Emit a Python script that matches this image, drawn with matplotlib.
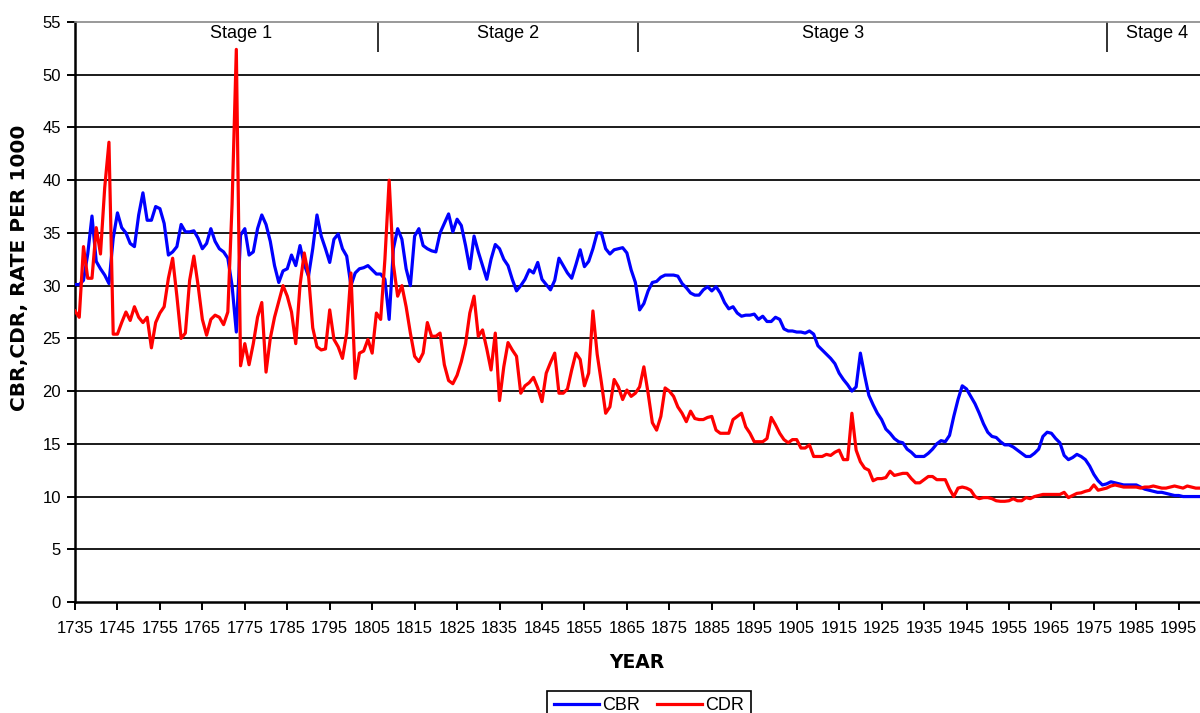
import matplotlib
matplotlib.use("Agg")
import matplotlib.pyplot as plt
import numpy as np

# years shown on the chart
years = np.arange(1735, 2001)

# crude birth rate per 1000
cbr = [
    30.1, 30.1, 30.5, 33.0, 36.6, 32.3, 31.6, 31.0, 30.2, 34.5,
    36.9, 35.5, 35.0, 34.0, 33.7, 36.7, 38.8, 36.2, 36.2, 37.5,
    37.3, 35.9, 32.9, 33.2, 33.7, 35.8, 35.1, 35.1, 35.2, 34.5,
    33.5, 34.0, 35.4, 34.2, 33.5, 33.2, 32.6, 30.0, 25.6, 34.8,
    35.4, 32.9, 33.2, 35.4, 36.7, 35.8, 34.2, 31.9, 30.3, 31.4,
    31.6, 32.9, 31.9, 33.8, 32.0, 30.9, 33.5, 36.7, 34.7, 33.5,
    32.2, 34.4, 34.9, 33.5, 32.8, 30.0, 31.2, 31.6, 31.7, 31.9,
    31.5, 31.1, 31.1, 30.6, 26.8, 33.5, 35.4, 34.4, 31.6, 30.0,
    34.7, 35.4, 33.8, 33.5, 33.3, 33.2, 35.0, 35.9, 36.8, 35.1,
    36.3, 35.7, 33.8, 31.6, 34.7, 33.2, 31.9, 30.6, 32.5, 33.9,
    33.5, 32.5, 31.9, 30.6, 29.5, 30.0, 30.6, 31.5, 31.2, 32.2,
    30.6, 30.1, 29.6, 30.5, 32.6, 31.9, 31.2, 30.7, 32.0, 33.4,
    31.8, 32.3, 33.5, 35.0, 35.0, 33.5, 33.0, 33.4, 33.5, 33.6,
    33.1, 31.5, 30.3, 27.7, 28.3, 29.5, 30.3, 30.4, 30.8, 31.0,
    31.0, 31.0, 30.9, 30.2, 29.8, 29.3, 29.1, 29.1, 29.6, 29.9,
    29.5, 29.9, 29.3, 28.4, 27.8, 28.0, 27.4, 27.1, 27.2, 27.2,
    27.3, 26.8, 27.1, 26.6, 26.6, 27.0, 26.8, 25.9, 25.7, 25.7,
    25.6, 25.6, 25.5, 25.7, 25.4, 24.3, 23.9, 23.5, 23.1, 22.6,
    21.7, 21.1, 20.6, 20.0, 20.4, 23.6, 21.5, 19.6, 18.7, 17.9,
    17.3, 16.4, 16.0, 15.5, 15.2, 15.1, 14.5, 14.2, 13.8, 13.8,
    13.8, 14.1, 14.5, 15.0, 15.3, 15.2, 15.8, 17.6, 19.2, 20.5,
    20.2, 19.5, 18.8, 17.9, 16.9, 16.1, 15.7, 15.6, 15.2, 14.9,
    14.9, 14.7, 14.4, 14.1, 13.8, 13.8, 14.1, 14.5, 15.7, 16.1,
    16.0, 15.5, 15.1, 13.9, 13.5, 13.7, 14.0, 13.8, 13.5, 12.9,
    12.1, 11.5, 11.1, 11.2, 11.4, 11.3, 11.2, 11.1, 11.1, 11.1,
    11.1, 10.9, 10.7, 10.6, 10.5, 10.4, 10.4, 10.3, 10.2, 10.1,
    10.1, 10.0, 10.0, 10.0, 10.0, 10.0,
]

# crude death rate per 1000
cdr = [
    27.6, 27.0, 33.7, 30.7, 30.7, 35.5, 33.0, 39.3, 43.6, 25.4,
    25.4, 26.5, 27.5, 26.7, 28.0, 27.0, 26.5, 27.0, 24.1, 26.5,
    27.4, 28.0, 30.7, 32.6, 29.0, 25.0, 25.5, 30.5, 32.8, 30.0,
    26.8, 25.3, 26.8, 27.2, 27.0, 26.3, 27.5, 37.7, 52.4, 22.4,
    24.5, 22.5, 24.5, 27.0, 28.4, 21.8, 25.0, 27.0, 28.5, 30.0,
    29.0, 27.5, 24.5, 30.0, 33.1, 31.0, 26.0, 24.2, 23.9, 24.0,
    27.7, 24.9, 24.2, 23.1, 25.5, 31.2, 21.2, 23.6, 23.8, 24.9,
    23.6, 27.4, 26.8, 32.5, 40.0, 32.0, 29.0, 30.0, 28.0, 25.5,
    23.3, 22.8, 23.6, 26.5, 25.2, 25.2, 25.5, 22.5, 21.0, 20.7,
    21.5, 22.8, 24.5, 27.4, 29.0, 25.2, 25.8, 24.0, 22.0, 25.5,
    19.1, 22.3, 24.6, 23.9, 23.3, 19.8, 20.5, 20.8, 21.3, 20.3,
    19.0, 21.7, 22.7, 23.6, 19.8, 19.8, 20.2, 22.0, 23.6, 23.0,
    20.5, 21.7, 27.6, 23.5, 20.8, 17.9, 18.5, 21.1, 20.4, 19.2,
    20.1, 19.5, 19.8, 20.4, 22.3, 19.8, 17.0, 16.3, 17.6, 20.3,
    20.0, 19.5, 18.5, 17.9, 17.1, 18.1, 17.4, 17.3, 17.3, 17.5,
    17.6, 16.3, 16.0, 16.0, 16.0, 17.3, 17.6, 17.9, 16.6, 16.0,
    15.2, 15.2, 15.2, 15.5, 17.5, 16.8, 16.0, 15.4, 15.1, 15.4,
    15.4, 14.6, 14.6, 14.9, 13.8, 13.8, 13.8, 14.0, 13.9, 14.2,
    14.4, 13.5, 13.5, 17.9, 14.4, 13.3, 12.7, 12.5, 11.5, 11.7,
    11.7, 11.8, 12.4, 12.0, 12.1, 12.2, 12.2, 11.7, 11.3, 11.3,
    11.6, 11.9, 11.9, 11.6, 11.6, 11.6, 10.7, 10.0, 10.8, 10.9,
    10.8, 10.6, 10.0, 9.8, 9.9, 9.9, 9.8, 9.6, 9.55, 9.55,
    9.6, 9.8, 9.6, 9.6, 9.9, 9.8, 10.0, 10.1, 10.2, 10.2,
    10.2, 10.2, 10.2, 10.4, 9.9, 10.1, 10.3, 10.35, 10.5, 10.6,
    11.1, 10.6, 10.7, 10.8, 11.0, 11.1, 11.0, 10.9, 10.9, 10.9,
    10.9, 10.8, 10.9, 10.9, 11.0, 10.9, 10.8, 10.8, 10.9, 11.0,
    10.9, 10.8, 11.0, 10.9, 10.8, 10.8,
]

# stages of the demographic transition
stage_names = ["Stage 1", "Stage 2", "Stage 3", "Stage 4"]
stage_label_x = [1774, 1837, 1913.5, 1990]
stage_breaks = [1806.4, 1867.6, 1978]

xtick_years = np.arange(1735, 2000, 10)
ytick_vals = np.arange(0, 56, 5)

sans = ["Liberation Sans", "DejaVu Sans"]
narrow = ["Liberation Sans Narrow", "Liberation Sans", "DejaVu Sans"]

fig = plt.figure(figsize=(12, 7.13), dpi=100)
ax = fig.add_axes([75 / 1200, 1 - 602 / 713, 1 - 75 / 1200, 580 / 713])

# horizontal grid lines
for v in ytick_vals[1:-1]:
    ax.axhline(v, color="#1a1a1a", linewidth=1.4, zorder=1)

ax.plot(years, cbr, color="#0000ff", linewidth=2.3, label="CBR", zorder=3)
ax.plot(years, cdr, color="#ff0000", linewidth=2.3, label="CDR", zorder=4)

# stage dividers and labels along the top
ax.vlines(stage_breaks, 52.2, 55, color="#222222", linewidth=1.3, zorder=2)
for name, xs in zip(stage_names, stage_label_x):
    ax.text(xs, 53.95, name, ha="center", va="center", fontsize=13,
            family=sans, color="black")

ax.set_xlim(1735, 2000)
ax.set_ylim(0, 55)
ax.set_xticks(xtick_years)
ax.set_xticklabels([str(y) for y in xtick_years], family=narrow, fontsize=12)
ax.set_yticks(ytick_vals)
ax.set_yticklabels([str(v) for v in ytick_vals], family=sans, fontsize=12)
ax.tick_params(axis="both", direction="out", length=6, width=1.4, color="black")
ax.tick_params(axis="x", pad=8)
ax.tick_params(axis="y", pad=4)

ax.spines["right"].set_visible(False)
ax.spines["top"].set_color("#888888")
ax.spines["top"].set_linewidth(1.2)
ax.spines["left"].set_linewidth(1.8)
ax.spines["bottom"].set_linewidth(1.8)

fig.text(20 / 1200, 1 - 268 / 713, "CBR,CDR, RATE PER 1000", rotation=90,
         ha="center", va="center", fontsize=14.5, fontweight="bold", family="DejaVu Sans")
fig.text(637 / 1200, 1 - 662 / 713, "YEAR", ha="center", va="center",
         fontsize=13.5, fontweight="bold", family="DejaVu Sans")

leg = fig.legend(loc="upper center", bbox_to_anchor=(649 / 1200, 1 - 682 / 713), ncol=2,
                 frameon=True, fancybox=False, edgecolor="black", framealpha=1,
                 prop={"family": sans, "size": 13}, handlelength=2.5,
                 columnspacing=0.9, handletextpad=0.2, borderpad=0.35)
leg.get_frame().set_linewidth(1.2)

fig.savefig("out.png", dpi=100, facecolor="white")
